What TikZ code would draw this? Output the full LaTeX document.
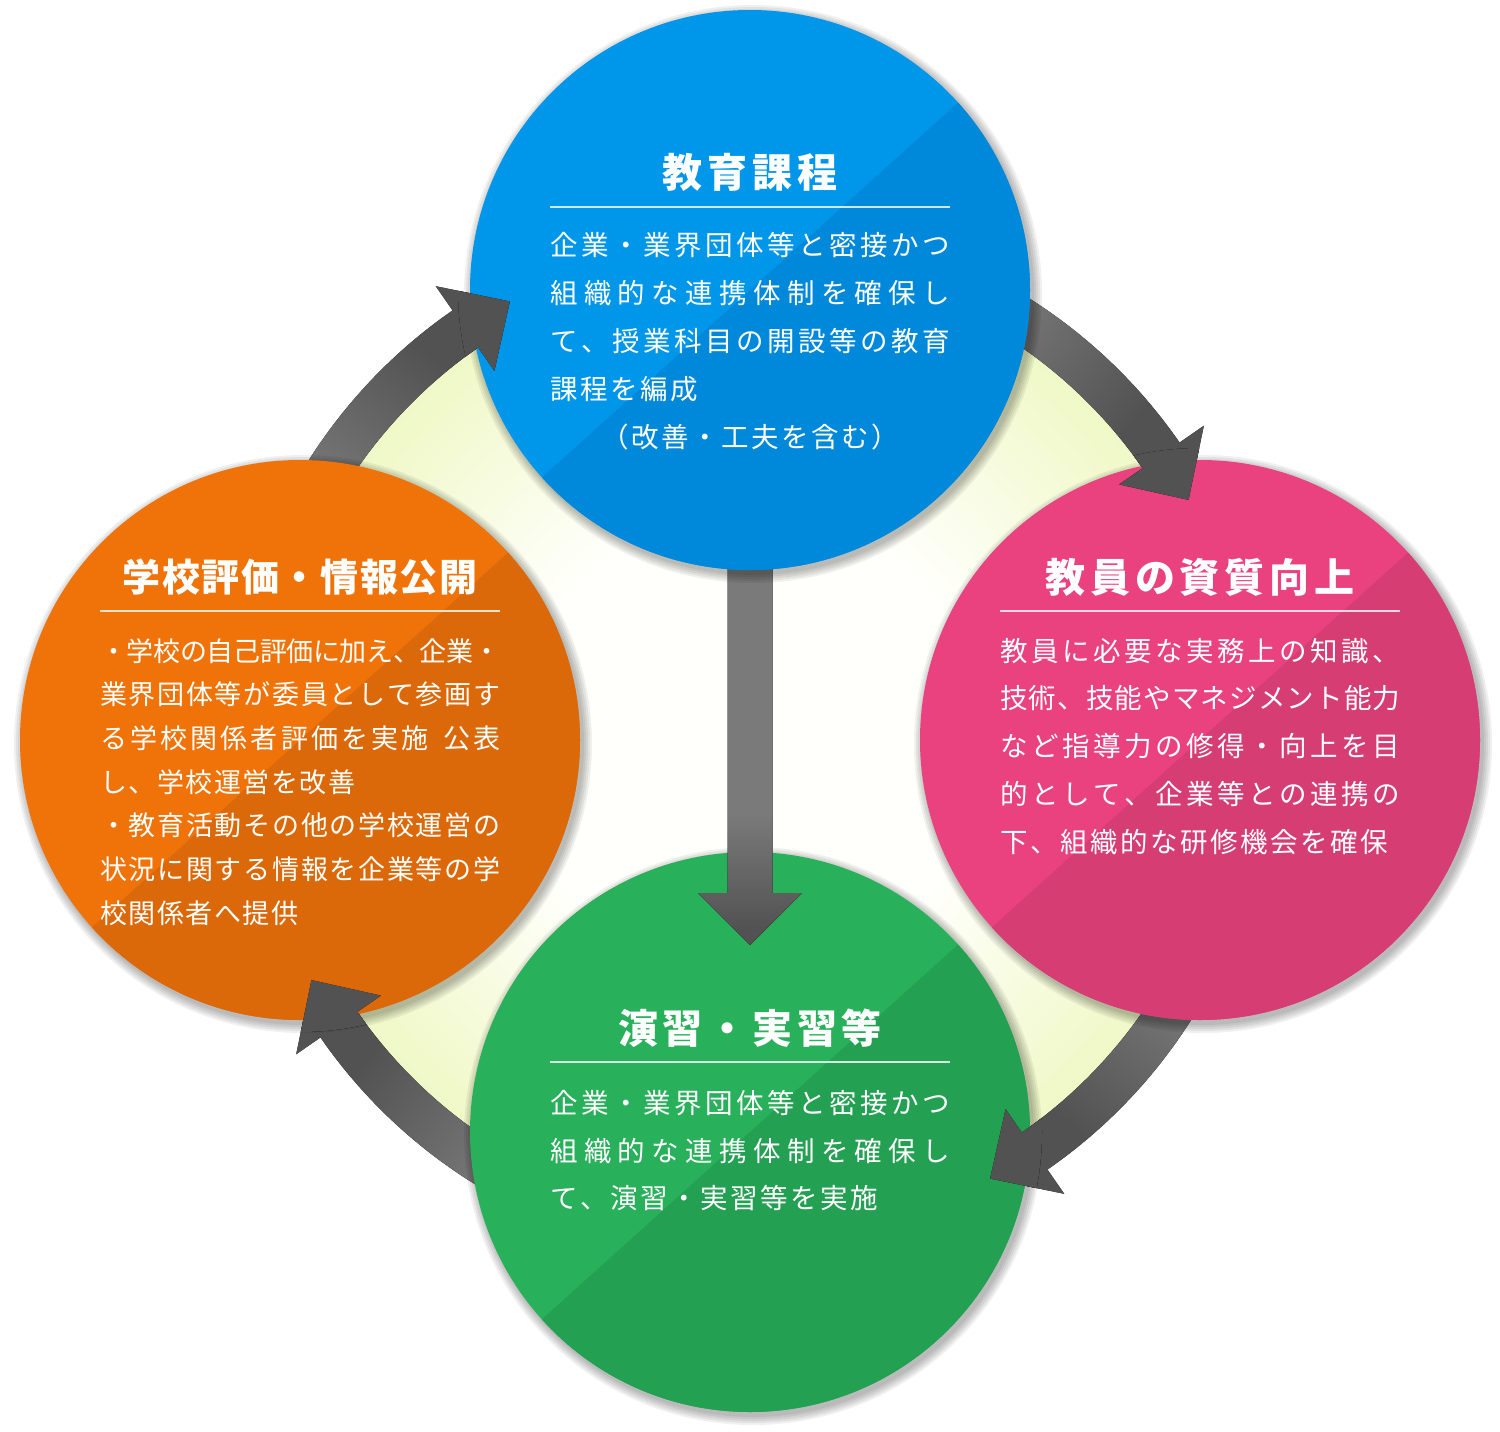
\documentclass[tikz,border=0pt]{standalone}
\usepackage{fontspec}
\setmainfont{Noto Sans CJK JP}
\newfontfamily\headfont[LetterSpace=12]{Noto Sans CJK JP}
\newfontfamily\headfontB[LetterSpace=4]{Noto Sans CJK JP}
\usetikzlibrary{calc}

\definecolor{blueL}{HTML}{0097EA}
\definecolor{blueD}{HTML}{0089DB}
\definecolor{orangeL}{HTML}{EF7309}
\definecolor{orangeD}{HTML}{DC6909}
\definecolor{pinkL}{HTML}{E9427E}
\definecolor{pinkD}{HTML}{D63D72}
\definecolor{greenL}{HTML}{28B05A}
\definecolor{greenD}{HTML}{23A052}
\definecolor{arrLight}{HTML}{7A7A7A}
\definecolor{arrDark}{HTML}{525252}
\definecolor{paleIn}{HTML}{FFFFFB}
\definecolor{paleOut}{HTML}{EFF8C4}

\pgfdeclareradialshading{paleglow}{\pgfpoint{0bp}{0bp}}{color(0bp)=(paleIn); color(12bp)=(paleIn); color(25bp)=(paleOut); color(50bp)=(paleOut)}
\pgfdeclareverticalshading{grayshaft}{100bp}{color(0bp)=(arrDark); color(27bp)=(arrDark); color(42bp)=(arrLight); color(100bp)=(arrLight)}
\pgfdeclareverticalshading{grayring}{100bp}{color(0bp)=(arrDark); color(32bp)=(arrDark); color(62bp)=(arrLight); color(100bp)=(arrLight)}

\newcommand{\ringpath}[3]{(#1:522.5) arc[start angle=#1, end angle=#2, radius=522.5] -- (#2:552) -- (#3:500) -- (#2:449) -- (#2:477.5) arc[start angle=#2, end angle=#1, radius=477.5] -- cycle}
\newcommand{\jgap}{2.5pt}
\newcommand{\jsp}{\hskip 8pt\relax}
\def\spreadloop#1#2{#1\ifx\relax#2\else\hskip\jgap plus 1fil minus 2.5pt\relax\expandafter\spreadloop\expandafter#2\fi}
\newcommand{\jline}[1]{\spreadloop#1\relax}
\newcommand{\fillline}[1]{\makebox[400pt][s]{\spreadloop#1\relax}}

\begin{document}
\begin{tikzpicture}[x=1pt,y=-1pt,
  bubble/.style 2 args={circle,minimum size=560pt,inner sep=0pt,outer sep=0pt,fill=#1,
    path picture={\fill[#2] ($(path picture bounding box.center)+(-42:600)$) -- ($(path picture bounding box.center)+(138:600)$)
      -- ($(path picture bounding box.center)+(138:600)+(48:600)$) -- ($(path picture bounding box.center)+(-42:600)+(48:600)$) -- cycle;}},
  ringarrow/.style={shading=grayring,shading angle=#1},
  title/.style={anchor=base,inner sep=0pt,text=white,font=\headfont\bfseries\fontsize{40}{48}\selectfont},
  body/.style={anchor=base west,inner sep=0pt,text=white,font=\fontsize{27.5}{30}\selectfont},
  bodyB/.style={body,font=\def\jgap{1.5pt}\fontsize{27}{30}\selectfont},
  rule/.style={white,opacity=.8,line width=1.5pt}]
  \useasboundingbox (0,0) rectangle (1500,1432);
  \fill[white] (0,0) rectangle (1500,1432);
  \coordinate (cC) at (750,740);
  \coordinate (cB) at (750,290);
  \coordinate (cO) at (300,740);
  \coordinate (cP) at (1200,740);
  \coordinate (cG) at (750,1132);

  \fill[shading=paleglow] (cC) circle[radius=490];
  \begin{scope}[shift={(cC)}]
    \fill[ringarrow=142] \ringpath{195}{235.3}{241.3};
    \fill[ringarrow=52] \ringpath{285}{325.3}{331.3};
    \fill[ringarrow=-38] \ringpath{15}{55.3}{61.3};
    \fill[ringarrow=-128] \ringpath{105}{145.3}{151.3};
  \end{scope}

  \foreach \ctr in {cG,cO,cP}
    \foreach \d in {1,3,5,7,9}
      \fill[black,opacity=.06] ($(\ctr)+(3,4)$) circle[radius={280+\d}];
  \node[bubble={greenL}{greenD}] (green) at (cG) {};
  \node[bubble={orangeL}{orangeD}] (orange) at (cO) {};
  \node[bubble={pinkL}{pinkD}] (pink) at (cP) {};

  \coordinate (vtip) at ($(green.north)+(0,93)$);
  \fill[shading=grayshaft] ($(cB)+(-22.5,270)$) -- ($(cB)+(22.5,270)$) -- ($(vtip)+(22.5,-52)$)
    -- ($(vtip)+(52,-52)$) -- (vtip) -- ($(vtip)+(-52,-52)$) -- ($(vtip)+(-22.5,-52)$) -- cycle;

  \foreach \d in {1,3,5,7,9}
    \fill[black,opacity=.06] ($(cB)+(3,4)$) circle[radius={280+\d}];
  \node[bubble={blueL}{blueD}] (blue) at (cB) {};

  \begin{scope}
    \clip (cB) circle[radius=292];
    \fill[shift={(cC)},ringarrow=142] \ringpath{195}{235.3}{241.3};
  \end{scope}
  \begin{scope}
    \clip (cP) circle[radius=292];
    \fill[shift={(cC)},ringarrow=52] \ringpath{285}{325.3}{331.3};
  \end{scope}
  \begin{scope}
    \clip (cG) circle[radius=292];
    \fill[shift={(cC)},ringarrow=-38] \ringpath{15}{55.3}{61.3};
  \end{scope}
  \begin{scope}
    \clip (cO) circle[radius=292];
    \fill[shift={(cC)},ringarrow=-128] \ringpath{105}{145.3}{151.3};
  \end{scope}

  \node[title] (bT) at (750,187) {教育課程};
  \draw[rule] (550,207) -- (950,207);
  \node[body] (b1) at (550,255) {\fillline{企業・業界団体等と密接かつ}};
  \node[body] (b2) at (550,303) {\fillline{組織的な連携体制を確保し}};
  \node[body] (b3) at (550,351) {\fillline{て、授業科目の開設等の教育}};
  \node[body] (b4) at (550,399) {\jline{課程を編成}};
  \node[body,anchor=base] (b5) at (750,447) {\jline{（改善・工夫を含む）}};

  \node[title,font=\headfontB\bfseries\fontsize{38}{46}\selectfont] (oT) at (300,591) {学校評価・情報公開};
  \draw[rule] (100,611) -- (500,611);
  \node[bodyB] (o1) at (100,661) {\fillline{・学校の自己評価に加え、企業・}};
  \node[bodyB] (o2) at (100,704.7) {\fillline{業界団体等が委員として参画す}};
  \node[bodyB] (o3) at (100,748.4) {\fillline{る学校関係者評価を実施\jsp 公表}};
  \node[bodyB] (o4) at (100,792.1) {\jline{し、学校運営を改善}};
  \node[bodyB] (o5) at (100,835.8) {\fillline{・教育活動その他の学校運営の}};
  \node[bodyB] (o6) at (100,879.5) {\fillline{状況に関する情報を企業等の学}};
  \node[bodyB] (o7) at (100,923.2) {\jline{校関係者へ提供}};

  \node[title] (pT) at (1200,592) {教員の資質向上};
  \draw[rule] (1000,611) -- (1400,611);
  \node[body] (p1) at (1000,661) {\fillline{教員に必要な実務上の知識、}};
  \node[body] (p2) at (1000,708) {\fillline{技術、技能やマネジメント能力}};
  \node[body] (p3) at (1000,756) {\fillline{など指導力の修得・向上を目}};
  \node[body] (p4) at (1000,804) {\fillline{的として、企業等との連携の}};
  \node[body] (p5) at (1000,852) {\jline{下、組織的な研修機会を確保}};

  \node[title] (gT) at (750,1043) {演習・実習等};
  \draw[rule] (550,1062) -- (950,1062);
  \node[body] (g1) at (550,1113) {\fillline{企業・業界団体等と密接かつ}};
  \node[body] (g2) at (550,1161) {\fillline{組織的な連携体制を確保し}};
  \node[body] (g3) at (550,1208) {\jline{て、演習・実習等を実施}};
\end{tikzpicture}
\end{document}
